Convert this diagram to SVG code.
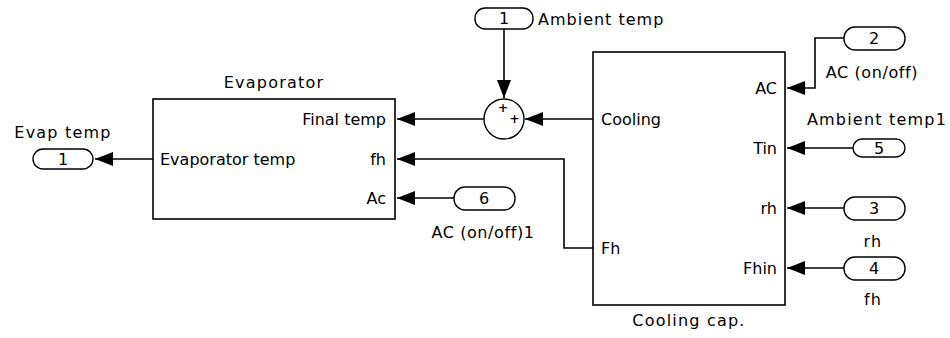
<svg xmlns="http://www.w3.org/2000/svg" width="950" height="338" viewBox="0 0 950 338">
<style>
.blk{fill:#fff;stroke:#000;stroke-width:1.6}
.port{fill:#fff;stroke:#000;stroke-width:1.4}
.ln{fill:none;stroke:#000;stroke-width:1.6;marker-end:url(#arr)}
text{font-family:"DejaVu Sans","Liberation Sans",sans-serif;font-size:16px;fill:#000}
.name{letter-spacing:1.2px;text-anchor:middle}
.num{text-anchor:middle}
.r{text-anchor:end}
.plus{font-size:12px;font-weight:bold;text-anchor:middle}
</style>
<defs>
<marker id="arr" markerUnits="userSpaceOnUse" markerWidth="19" markerHeight="15" refX="18" refY="7" orient="auto">
<path d="M0,0 L18,7 L0,14 Z" fill="#000"/>
</marker>
</defs>
<rect width="950" height="338" fill="#fff"/>
<g id="connectors">
<path class="ln" d="M504,29 V98"/>
<path class="ln" d="M593,119 H525"/>
<path class="ln" d="M484,119 H397"/>
<path class="ln" d="M593,248 H564 V159 H397"/>
<path class="ln" d="M454,198 H397"/>
<path class="ln" d="M153,159 H95"/>
<path class="ln" d="M844,38 H815 V88 H787"/>
<path class="ln" d="M853,148 H787"/>
<path class="ln" d="M844,208 H787"/>
<path class="ln" d="M844,268 H787"/>
</g>
<g id="evaporator">
<rect class="blk" x="153" y="99" width="242" height="120"/>
<text class="name" x="274" y="88">Evaporator</text>
<text x="160" y="165">Evaporator temp</text>
<text class="r" x="386" y="125">Final temp</text>
<text class="r" x="386" y="165">fh</text>
<text class="r" x="386" y="204">Ac</text>
</g>
<g id="cooling-cap">
<rect class="blk" x="593" y="52" width="192" height="253"/>
<text class="name" x="689" y="326">Cooling cap.</text>
<text x="601" y="125">Cooling</text>
<text x="601" y="254">Fh</text>
<text class="r" x="777" y="94">AC</text>
<text class="r" x="777" y="154">Tin</text>
<text class="r" x="777" y="214">rh</text>
<text class="r" x="777" y="274">Fhin</text>
</g>
<g id="sum">
<circle cx="504" cy="119" r="20" fill="#fff" stroke="#000" stroke-width="1.4"/>
<text class="plus" x="503" y="112">+</text>
<text class="plus" x="514.5" y="123">+</text>
</g>
<g id="in-ambient">
<rect class="port" x="475" y="8" width="58" height="21" rx="10" ry="10"/>
<text class="num" x="504" y="24">1</text>
<text x="538" y="25" style="letter-spacing:1px">Ambient temp</text>
</g>
<g id="out-evap">
<rect class="port" x="33" y="149" width="60" height="20" rx="10" ry="10"/>
<text class="num" x="63" y="165">1</text>
<text class="name" x="63" y="138">Evap temp</text>
</g>
<g id="in-ac">
<rect class="port" x="844" y="27" width="61" height="23" rx="11" ry="11"/>
<text class="num" x="874" y="44">2</text>
<text class="name" x="872" y="78" style="letter-spacing:0.6px">AC (on/off)</text>
</g>
<g id="in-ambient1">
<rect class="port" x="853" y="139" width="52" height="18" rx="9" ry="9"/>
<text class="num" x="879" y="154">5</text>
<text class="name" x="877" y="125">Ambient temp1</text>
</g>
<g id="in-rh">
<rect class="port" x="844" y="197" width="61" height="23" rx="11" ry="11"/>
<text class="num" x="874" y="214">3</text>
<text class="name" x="873" y="247">rh</text>
</g>
<g id="in-fh">
<rect class="port" x="844" y="257" width="61" height="23" rx="11" ry="11"/>
<text class="num" x="874" y="274">4</text>
<text class="name" x="873" y="305">fh</text>
</g>
<g id="in-ac1">
<rect class="port" x="454" y="187" width="61" height="23" rx="11" ry="11"/>
<text class="num" x="484" y="204">6</text>
<text class="name" x="483" y="238" style="letter-spacing:0.6px">AC (on/off)1</text>
</g>
</svg>
